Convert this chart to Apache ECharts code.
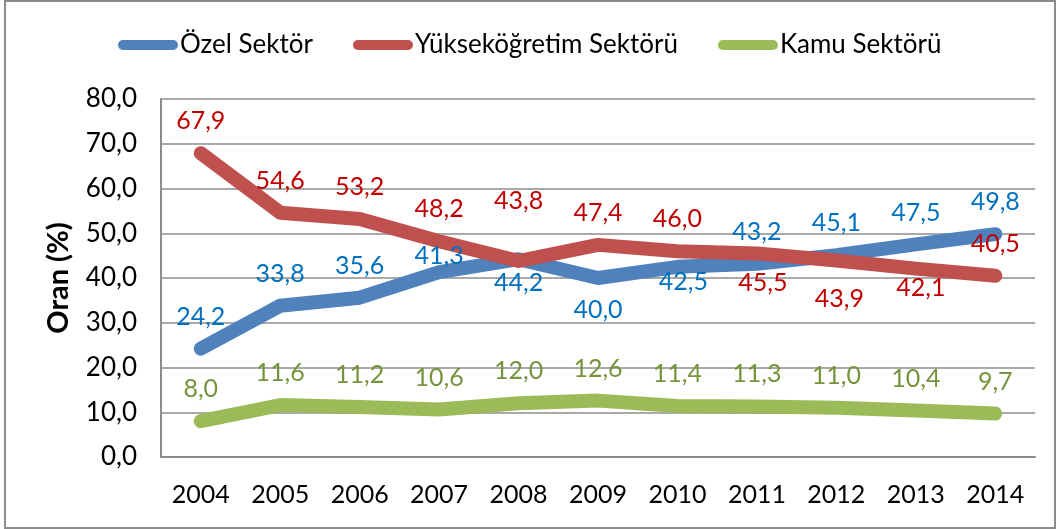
<!DOCTYPE html>
<html>
<head>
<meta charset="utf-8">
<script src="https://cdn.jsdelivr.net/npm/echarts@6/dist/echarts.min.js"></script>
<style>
    html, body { margin: 0; padding: 0; background: #fff; }
    #chart { width: 1057px; height: 529px; }
    #frame {
        position: absolute; left: 4px; top: 0; width: 1048px; height: 525px;
        border: 2px solid #8c8c8c; pointer-events: none;
    }
</style>
</head>
<body>
<div id="chart"></div>
<div id="frame"></div>
<script>
var years = ["2004", "2005", "2006", "2007", "2008", "2009", "2010", "2011", "2012", "2013", "2014"];
var ozelSektor = [24.2, 33.8, 35.6, 41.3, 44.2, 40.0, 42.5, 43.2, 45.1, 47.5, 49.8];
var yuksekogretimSektoru = [67.9, 54.6, 53.2, 48.2, 43.8, 47.4, 46.0, 45.5, 43.9, 42.1, 40.5];
var kamuSektoru = [8.0, 11.6, 11.2, 10.6, 12.0, 12.6, 11.4, 11.3, 11.0, 10.4, 9.7];

var FONT = "Lato";

// label nudges (px, relative to the point) where the default "above" spot was moved
var ozelNudge = { 3: [0, -16], 4: [0, 24], 5: [0, 32], 6: [6, 15] };
var yukNudge = { 4: [0, -60], 7: [6, 30], 8: [3, 38], 9: [5, 19] };

function comma(v) {
    return v.toFixed(1).replace(".", ",");
}

function build(name, values, lineColor, labelColor, nudge) {
    return {
        name: name,
        type: "line",
        data: values.map(function(v, i) {
            var off = nudge[i] || [0, -32];
            return { value: v, label: { offset: off } };
        }),
        symbol: "circle",
        symbolSize: 1,
        showSymbol: true,
        itemStyle: { color: lineColor },
        lineStyle: { color: lineColor, width: 14, cap: "round", join: "round" },
        label: {
            show: true,
            position: "inside",
            color: labelColor,
            fontFamily: FONT,
            fontSize: 25,
            formatter: function(p) {
                return comma(p.value);
            }
        },
        animation: false
    };
}

var pill = "path://M5,0 L55,0 A5,5 0 0 1 55,10 L5,10 A5,5 0 0 1 5,0 Z";

var chart = echarts.init(document.getElementById("chart"));
chart.setOption({
    animation: false,
    legend: {
        left: 113,
        top: 27,
        itemWidth: 60,
        itemHeight: 10,
        itemGap: 40,
        textStyle: { fontFamily: FONT, fontSize: 26, color: "#000", padding: [0, 0, 0, -3] },
        data: [
            { name: "Özel Sektör", icon: pill },
            { name: "Yükseköğretim Sektörü", icon: pill },
            { name: "Kamu Sektörü", icon: pill }
        ]
    },
    grid: {
        left: 161,
        right: 22,
        top: 99,
        bottom: 72
    },
    xAxis: {
        type: "category",
        data: years,
        boundaryGap: true,
        axisTick: { show: false },
        axisLine: { lineStyle: { color: "#8c8c8c", width: 2 } },
        axisLabel: { color: "#000", fontFamily: FONT, fontSize: 25, margin: 25 }
    },
    yAxis: {
        type: "value",
        min: 0,
        max: 80,
        interval: 10,
        name: "Oran (%)",
        nameLocation: "middle",
        nameRotate: 90,
        nameGap: 88,
        nameTextStyle: { color: "#000", fontFamily: FONT, fontSize: 29, fontWeight: "bold" },
        axisLine: { show: true, lineStyle: { color: "#8c8c8c", width: 2 } },
        axisTick: { show: false },
        splitLine: { lineStyle: { color: "#8c8c8c", width: 1.5 } },
        axisLabel: {
            color: "#000",
            fontFamily: FONT,
            fontSize: 26,
            margin: 24,
            formatter: function(v) {
                return comma(v);
            }
        }
    },
    series: [
        build("Özel Sektör", ozelSektor, "#4F81BD", "#0070C0", ozelNudge),
        build("Yükseköğretim Sektörü", yuksekogretimSektoru, "#C0504D", "#C00000", yukNudge),
        build("Kamu Sektörü", kamuSektoru, "#9BBB59", "#77933C", {})
    ]
});
</script>
</body>
</html>
